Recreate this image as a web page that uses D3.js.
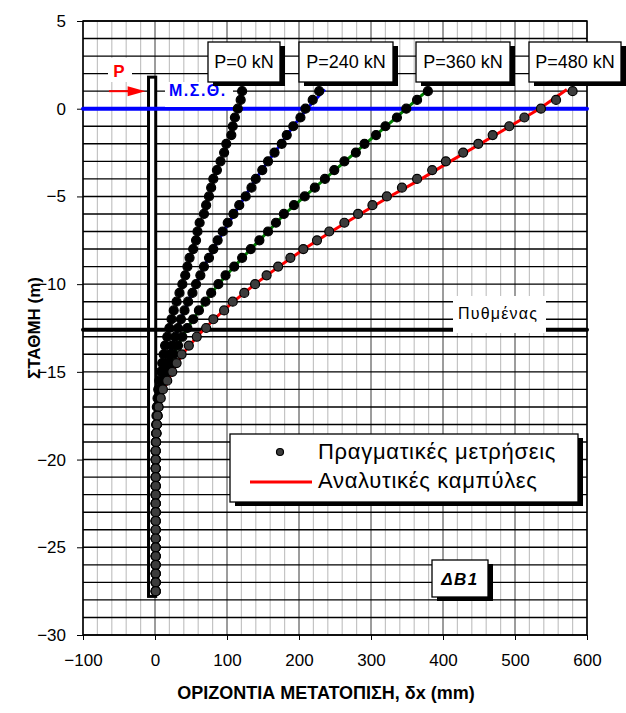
<!DOCTYPE html>
<html>
<head>
<meta charset="utf-8">
<script src="https://cdn.jsdelivr.net/npm/d3@7"></script>
<style>
  body { margin: 0; background: #fff; }
  svg { display: block; font-family: "Liberation Sans", Arial, sans-serif; }
</style>
</head>
<body>
<svg id="chart" width="626" height="713"></svg>
<script>
// measured points, depth (m) and horizontal displacement (mm)
const depths = [1.0, 0.5, 0, -0.5, -1, -1.5, -2, -2.5, -3, -3.5, -4, -4.5, -5, -5.5, -6, -6.5, -7, -7.5,
    -8, -8.5, -9, -9.5, -10, -10.5, -11, -11.5, -12, -12.5, -13, -13.5, -14, -14.5, -15, -15.5, -16, -16.5,
    -17, -17.5, -18, -18.5, -19, -19.5, -20, -20.5, -21, -21.5, -22, -22.5, -23, -23.5, -24, -24.5, -25,
    -25.5, -26, -26.5, -27, -27.5];

const meas0 = [121, 119, 115, 111, 108, 106, 99, 96, 91, 86, 81, 78, 75, 71, 68, 62, 59, 57,
    53, 48, 45, 42, 38, 34, 30, 26, 23, 20, 17, 14, 12, 10, 8, 6, 4.5, 3.5,
    2.5, 2, 1.5, 1.5, 1, 1, 1, 1, 1, 1, 1, 1, 1, 1, 1, 1, 1, 1, 1, 1, 1, 1];
const meas240 = [228, 219, 209, 202, 192, 183, 176, 166, 157, 149, 140, 134, 126, 117, 109, 101, 94, 87,
    81, 75, 68, 63, 57, 52, 46, 41, 36, 32, 28, 24, 20, 17, 14, 11, 8, 6,
    4.5, 3.5, 2.5, 2, 1.5, 1, 1, 1, 1, 1, 1, 1, 1, 1, 1, 1, 1, 1, 1, 1, 1, 1];
const meas360 = [379, 364, 349, 336, 320, 307, 291, 279, 263, 249, 236, 222, 208, 193, 179, 168, 157, 145,
    133, 121, 110, 98, 88, 78, 70, 61, 53, 45, 38, 32, 26, 21, 16, 12, 9, 6.5,
    4.5, 3.5, 2.5, 2, 1.5, 1, 1, 1, 1, 1, 1, 1, 1, 1, 1, 1, 1, 1, 1, 1, 1, 1];
const meas480 = [580, 557, 536, 513, 492, 469, 449, 428, 404, 385, 364, 343, 322, 302, 282, 263, 242, 225,
    206, 188, 171, 155, 139, 124, 108, 96, 81, 71, 58, 47, 37, 30, 24, 17, 11, 8,
    5, 3.5, 2.5, 2, 1.5, 1, 1, 1, 1, 1, 1, 1, 1, 1, 1, 1, 1, 1, 1, 1, 1, 1];

// analytic curves
const curveDepths = [1.1, 0, -1, -2, -3, -4, -5, -6, -7, -8, -9, -10, -11, -12, -13, -14, -15, -16,
    -17, -18, -19, -20, -27.5];
const curve240 = [236, 211, 192, 175, 157, 140, 125, 110, 95, 81, 68, 57, 46, 36, 28, 20, 14, 8,
    4.5, 2.5, 1.5, 1, 1];
const curve360 = [380, 349, 321, 292, 264, 236, 208, 180, 157, 133, 110, 88, 70, 53, 38, 26, 16, 9,
    4.5, 2.5, 1.5, 1, 1];
const curve480 = [572, 534, 493, 452, 410, 370, 326, 285, 245, 207, 172, 139, 109, 82, 58, 38, 24, 12,
    5, 2.5, 1.5, 1, 1];

const loadLabels = ["P=0 kN", "P=240 kN", "P=360 kN", "P=480 kN"];
const xTicks = [-100, 0, 100, 200, 300, 400, 500, 600];
const yTicks = [5, 0, -5, -10, -15, -20, -25, -30];

const groundLevel = 0;
const bottomLevel = -12.6;
const pileX = [-9, 1];
const pileY = [1.8, -27.8];

const svg = d3.select("#chart");
const plotL = 83, plotR = 587, plotT = 21, plotB = 635;

const x = d3.scaleLinear().domain([-100, 600]).range([plotL, plotR]);
const y = d3.scaleLinear().domain([-30, 5]).range([plotB, plotT]);

// grid
const grid = svg.append("g");
grid.selectAll(".vminor").data(d3.range(-100, 601, 20).filter(v => v % 100 !== 0))
    .join("line")
    .attr("x1", d => x(d)).attr("x2", d => x(d))
    .attr("y1", plotT).attr("y2", plotB)
    .attr("stroke", "#c4c4c4").attr("stroke-width", 1.2);
grid.selectAll(".vmajor").data(xTicks)
    .join("line")
    .attr("x1", d => x(d)).attr("x2", d => x(d))
    .attr("y1", plotT).attr("y2", plotB)
    .attr("stroke", "#3a3a3a").attr("stroke-width", 1);
grid.selectAll(".h").data(d3.range(-30, 6, 1))
    .join("line")
    .attr("x1", plotL).attr("x2", plotR)
    .attr("y1", d => y(d)).attr("y2", d => y(d))
    .attr("stroke", "#000").attr("stroke-width", 1.4);

// axes
const xAxis = svg.append("g")
    .attr("transform", `translate(0,${plotB})`)
    .call(d3.axisBottom(x).tickValues(xTicks).tickSize(5).tickPadding(12).tickFormat(d3.format("d")));
const yAxis = svg.append("g")
    .attr("transform", `translate(${plotL},0)`)
    .call(d3.axisLeft(y).tickValues(yTicks).tickSize(6).tickPadding(11).tickFormat(d3.format("d")));
[xAxis, yAxis].forEach(a => {
    a.select(".domain").remove();
    a.selectAll("line").attr("stroke", "#000").attr("stroke-width", 1);
    a.selectAll("text").attr("font-size", 17).attr("fill", "#000")
        .attr("font-family", "Liberation Sans, Arial, sans-serif");
});
xAxis.selectAll("text").attr("dy", "0.85em");

svg.append("rect")
    .attr("x", plotL).attr("y", plotT).attr("width", plotR - plotL).attr("height", plotB - plotT)
    .attr("fill", "none").attr("stroke", "#000").attr("stroke-width", 1.5);

// pile
svg.append("rect")
    .attr("x", x(pileX[0])).attr("y", y(pileY[0]))
    .attr("width", x(pileX[1]) - x(pileX[0])).attr("height", y(pileY[1]) - y(pileY[0]))
    .attr("fill", "#fff").attr("stroke", "#000").attr("stroke-width", 3);

// bottom line label
svg.append("line")
    .attr("x1", plotL).attr("x2", plotR)
    .attr("y1", y(bottomLevel)).attr("y2", y(bottomLevel))
    .attr("stroke", "#000").attr("stroke-width", 4).attr("stroke-linecap", "round");
svg.append("rect").attr("x", 453).attr("y", 296).attr("width", 93).attr("height", 37).attr("fill", "#fff");
svg.append("text").attr("x", 498).attr("y", 319).attr("text-anchor", "middle")
    .attr("font-size", 16).attr("letter-spacing", 1.2).text("Πυθμένας");

// ground level
svg.append("line")
    .attr("x1", plotL).attr("x2", plotR)
    .attr("y1", y(groundLevel)).attr("y2", y(groundLevel))
    .attr("stroke", "#0000ff").attr("stroke-width", 4).attr("stroke-linecap", "round");

// P arrow and M.S.TH label
svg.append("rect").attr("x", 108).attr("y", 58).attr("width", 24).attr("height", 24).attr("fill", "#fff");
svg.append("text").attr("x", 119).attr("y", 77).attr("text-anchor", "middle")
    .attr("font-size", 17).attr("font-weight", "bold").attr("fill", "#ff0000").text("P");
const ay = y(1.0);
svg.append("line").attr("x1", x(-64)).attr("x2", x(-30)).attr("y1", ay).attr("y2", ay)
    .attr("stroke", "#ff0000").attr("stroke-width", 2);
svg.append("path")
    .attr("d", `M${x(-12) - 1},${ay} L${x(-38)},${ay - 5} L${x(-38)},${ay + 5} Z`)
    .attr("fill", "#ff0000");
svg.append("rect").attr("x", 165).attr("y", 82).attr("width", 68).attr("height", 25).attr("fill", "#fff");
svg.append("text").attr("x", 169).attr("y", 96)
    .attr("font-size", 16).attr("font-weight", "bold").attr("letter-spacing", 1.5)
    .attr("fill", "#0000ff").text("Μ.Σ.Θ.");

// analytic curves
const line = d3.line().x(d => x(d[0])).y(d => y(d[1]));
const curves = [
    {vals: curve240, color: "#0000ff"},
    {vals: curve360, color: "#008000"},
    {vals: curve480, color: "#ff0000"}
];
svg.append("g").selectAll("path").data(curves).join("path")
    .attr("d", c => line(c.vals.map((v, i) => [v, curveDepths[i]])))
    .attr("fill", "none").attr("stroke", c => c.color).attr("stroke-width", 3);

// measured points
const series = [
    {vals: meas0, fill: "#000"},
    {vals: meas240, fill: "#000"},
    {vals: meas360, fill: "#000"},
    {vals: meas480, fill: "#3c3c3c"}
];
series.forEach(s => {
    svg.append("g").selectAll("circle").data(s.vals.map((v, i) => [v, depths[i]])).join("circle")
        .attr("cx", d => x(d[0])).attr("cy", d => y(d[1])).attr("r", 4.5)
        .attr("fill", s.fill).attr("stroke", "#000").attr("stroke-width", 1.2);
});

// boxes with shadow
function box(x0, y0, w, h, sh) {
    svg.append("rect").attr("x", x0 + sh).attr("y", y0 + sh - 1).attr("width", w).attr("height", h).attr("fill", "#000");
    svg.append("rect").attr("x", x0).attr("y", y0).attr("width", w).attr("height", h)
        .attr("fill", "#fff").attr("stroke", "#000").attr("stroke-width", 1.3);
}

const labelBoxes = [[208, 72], [299, 94], [416, 94], [529, 92]];
loadLabels.forEach((t, i) => {
    const [bx, bw] = labelBoxes[i];
    box(bx, 42, bw, 40, 5);
    svg.append("text").attr("x", bx + bw / 2).attr("y", 68).attr("text-anchor", "middle")
        .attr("font-size", 18).text(t);
});

// legend
box(230, 434, 348, 68, 5);
svg.append("circle").attr("cx", 280).attr("cy", 452).attr("r", 3.5)
    .attr("fill", "#3c3c3c").attr("stroke", "#000").attr("stroke-width", 1.2);
svg.append("line").attr("x1", 250).attr("x2", 312).attr("y1", 482).attr("y2", 482)
    .attr("stroke", "#ff0000").attr("stroke-width", 3);
svg.append("text").attr("x", 318).attr("y", 459).attr("font-size", 22).attr("letter-spacing", 0.7)
    .text("Πραγματικές μετρήσεις");
svg.append("text").attr("x", 318).attr("y", 488).attr("font-size", 22).attr("letter-spacing", 0.7)
    .text("Αναλυτικές καμπύλες");

// pile name
box(432, 560, 56, 37, 5);
svg.append("text").attr("x", 460).attr("y", 585).attr("text-anchor", "middle")
    .attr("font-size", 17).attr("font-weight", "bold").attr("font-style", "italic")
    .attr("letter-spacing", 1.5).text("ΔB1");

// titles
svg.append("text").attr("x", 326).attr("y", 699).attr("text-anchor", "middle")
    .attr("font-size", 18).attr("font-weight", "bold").text("ΟΡΙΖΟΝΤΙΑ ΜΕΤΑΤΟΠΙΣΗ, δx (mm)");
svg.append("text").attr("transform", "translate(40,328) rotate(-90)").attr("text-anchor", "middle")
    .attr("font-size", 17).attr("font-weight", "bold").text("ΣΤΑΘΜΗ (m)");
</script>
</body>
</html>
